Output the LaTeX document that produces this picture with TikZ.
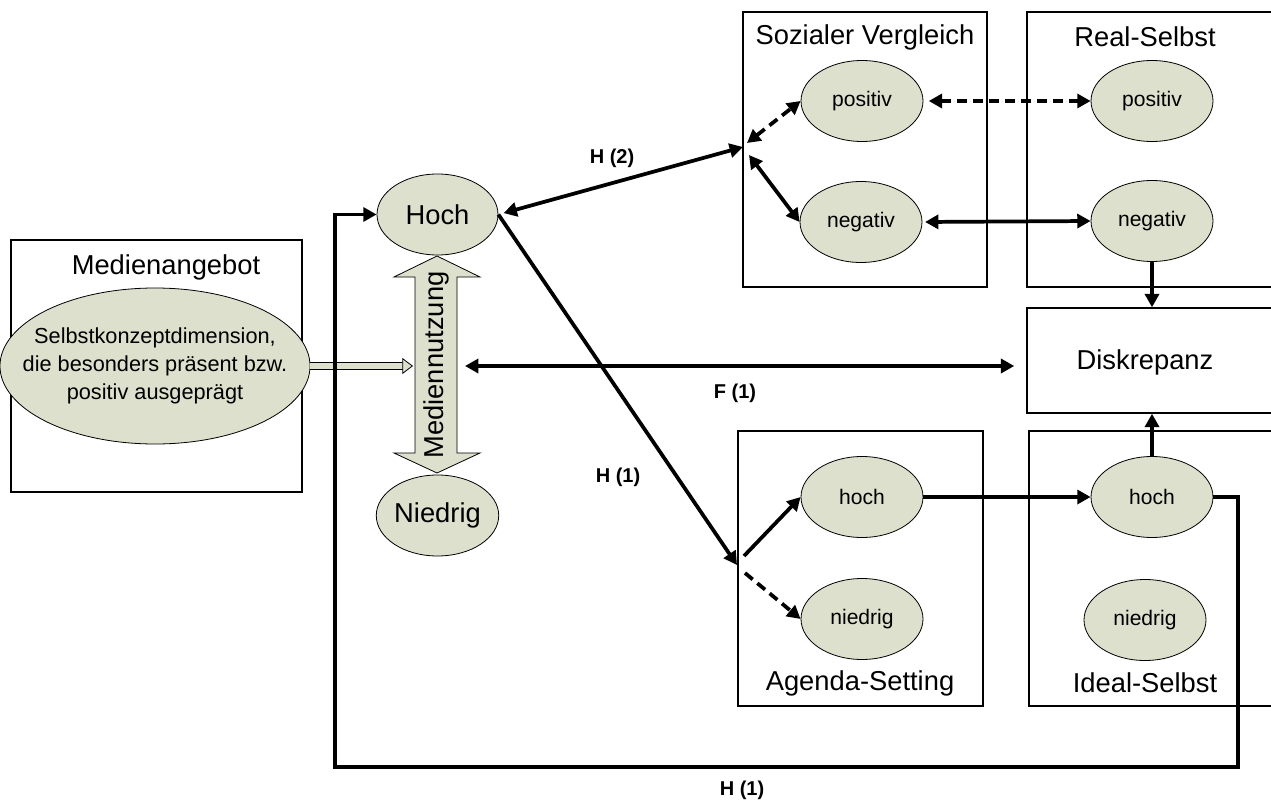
\documentclass[tikz,border=0pt]{standalone}
\usepackage{fontspec}
\setmainfont{Liberation Sans}
\usetikzlibrary{arrows.meta,shapes.geometric}

\definecolor{ovalfill}{RGB}{221,224,204}
\tikzset{every picture/.style={line width=0.75pt}}
\tikzset{
  box/.style={draw, line width=1.1pt, inner sep=0pt},
  oval/.style={draw, ellipse, fill=ovalfill, line width=0.6pt, inner sep=0pt,
    minimum width=91.5pt, minimum height=60.75pt, font=\fontsize{15.8}{18}\selectfont},
  bigoval/.style={oval, minimum width=90.75pt, font=\fontsize{20.5}{24}\selectfont},
  title/.style={font=\fontsize{20.5}{24}\selectfont},
  lbl/.style={font=\bfseries\fontsize{15}{18}\selectfont},
  conn/.style={line width=2.8pt, -{Triangle[length=10pt,width=10.5pt]}},
  dconn/.style={line width=2.8pt, {Triangle[length=10pt,width=10.5pt]}-{Triangle[length=10pt,width=10.5pt]}},
  dashconn/.style={dash pattern=on 7.5pt off 4.5pt},
  hollow/.style={line width=0.6pt, double=ovalfill, double distance=4.5pt,
    -{Triangle[length=8pt,width=12pt,fill=ovalfill,line width=0.6pt]}}
}

\begin{document}
\begin{tikzpicture}[x=0.75pt,y=0.75pt,yscale=-1,xscale=1]

\clip (0,0) rectangle (1271,806);

\draw (156.5,366) node [box, minimum width=218.25pt, minimum height=189pt] (angebot) {};
\draw (865,149.5) node [box, minimum width=183pt, minimum height=206.25pt] (svBox) {};
\draw (1151,149.5) node [box, minimum width=186pt, minimum height=206.25pt] (rsBox) {};
\draw (1151,360.5) node [box, minimum width=186pt, minimum height=78.75pt] (disk) {};
\draw (860.5,568.5) node [box, minimum width=183.75pt, minimum height=206.25pt] (agBox) {};
\draw (1152,568.5) node [box, minimum width=184.5pt, minimum height=206.25pt] (idBox) {};

\draw (166,267) node [title] (angebotTitle) {Medienangebot};
\draw (865,37) node [title] (svTitle) {Sozialer Vergleich};
\draw (1145,37) node [title] (rsTitle) {Real-Selbst};
\draw (1145,362) node [title] (diskTitle) {Diskrepanz};
\draw (860,683) node [title] (agTitle) {Agenda-Setting};
\draw (1145,683) node [title] (idTitle) {Ideal-Selbst};

\draw (155,366) node [oval, inner xsep=-17pt, minimum width=228pt, minimum height=117pt, align=center,
  font=\fontsize{16.3}{21}\selectfont] (angebotOval) {Selbstkonzeptdimension,\\die besonders präsent bzw.\\positiv ausgeprägt};
\draw (437.5,214.5) node [bigoval] (hoch) {Hoch};
\draw (437.5,515.5) node [bigoval] (niedrig) {Niedrig};
\draw (862,101) node [oval] (svPos) {positiv};
\draw (861,222) node [oval] (svNeg) {negativ};
\draw (1152,101) node [oval] (rsPos) {positiv};
\draw (1152,221) node [oval] (rsNeg) {negativ};
\draw (862,497) node [oval] (agHoch) {hoch};
\draw (862,619) node [oval] (agNied) {niedrig};
\draw (1152,497) node [oval] (idHoch) {hoch};
\draw (1145,620) node [oval] (idNied) {niedrig};

\filldraw [fill=ovalfill, line width=0.6pt] (437,256) -- (480,277) -- (457,277) -- (457,453) -- (480,453) -- (437,473) -- (394,453) -- (415,453) -- (415,277) -- (394,277) -- cycle ;
\draw (436,365) node [title, rotate=90] (nutzung) {Mediennutzung};

\coordinate (nutzIn) at (413,366);
\coordinate (nutzR) at (465,366);
\coordinate (svFork) at (743,147);
\coordinate (agFork) at (737,565);
\coordinate (loopSE) at (1238,767);
\coordinate (loopSW) at (335,767);

\draw [hollow] (angebotOval.east) -- (nutzIn) ;
\draw [dconn, shorten >=9pt] (nutzR) -- (disk.west |- nutzR) ;
\draw [conn] (idHoch.east) -| (loopSE) -- (loopSW) |- (hoch.west) ;

\draw [dconn, shorten <=4pt] (hoch.east) -- (svFork) ;
\draw [dconn, dashconn] ([shift={(4,-4)}]svFork) -- (svPos.west) ;
\draw [dconn] ([shift={(6,8)}]svFork) -- (svNeg.west) ;
\draw [dconn, dashconn, shorten <=4pt] (svPos.east) -- (rsPos.west) ;
\draw [dconn, shorten <=2pt] (svNeg.east) -- (rsNeg.west) ;
\draw [conn] (rsNeg.south) -- (rsNeg.south |- disk.north) ;

\draw [conn] (hoch.east) -- (agFork) ;
\draw [conn] ([shift={(7,-9)}]agFork) -- (agHoch.west) ;
\draw [conn, dashconn] ([shift={(8,8)}]agFork) -- (agNied.west) ;
\draw [conn] (agHoch.east) -- (idHoch.west) ;
\draw [conn] (idHoch.north) -- (idHoch.north |- disk.south) ;

\draw (612,158) node [lbl] (lblH2) {H (2)};
\draw (735,393) node [lbl] (lblF1) {F (1)};
\draw (618,477) node [lbl] (lblH1a) {H (1)};
\draw (742,790) node [lbl] (lblH1b) {H (1)};

\end{tikzpicture}
\end{document}
